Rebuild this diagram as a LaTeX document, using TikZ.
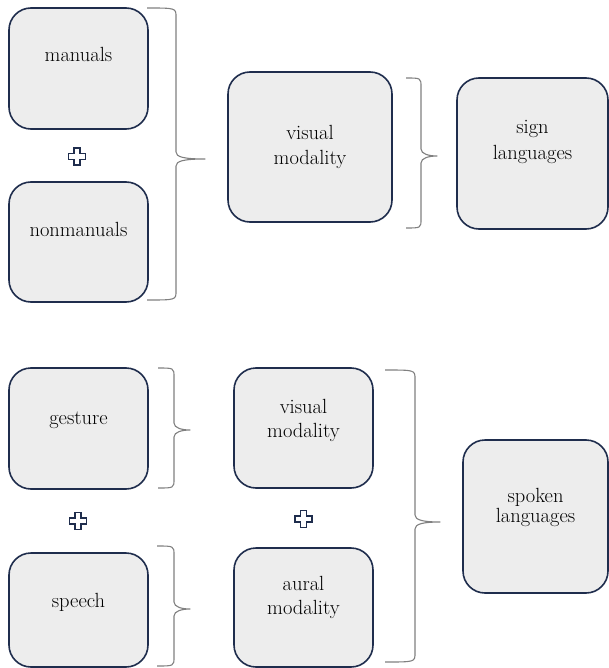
\documentclass[tikz,border=0pt]{standalone}
\definecolor{boxline}{HTML}{1F2D4D}
\definecolor{boxfill}{HTML}{EDEDED}
\definecolor{bracecol}{HTML}{808080}
\definecolor{txtcol}{HTML}{000000}
\tikzset{
  mbox/.style={draw=boxline, fill=boxfill, line width=1.6pt, rounded corners=22pt, inner sep=0pt},
  lbl/.style={font=\fontsize{20.5}{24}\selectfont, text=txtcol, align=center, inner sep=0pt},
  bracestyle/.style={draw=bracecol, line width=1.1pt, line join=round},
  plusstyle/.style={draw=boxline, fill=white, line width=1.2pt, line join=miter}
}
% brace: start x, vertical x, tip x, top y, bottom y, tip y
\newcommand\drawbrace[6]{%
  \draw[bracestyle] (#1,#4) .. controls (#2,#4) .. (#2,{#4+9})
    -- (#2,{#6-7}) .. controls (#2,{#6-2}) and ({#2+8},#6) .. (#3,#6)
    .. controls ({#2+8},#6) and (#2,{#6+2}) .. (#2,{#6+7})
    -- (#2,{#5-9}) .. controls (#2,#5) .. (#1,#5);}
\newcommand\drawplus[2]{%
  \draw[plusstyle] ({#1-3},{#2-8.5}) -- ({#1+3},{#2-8.5}) -- ({#1+3},{#2-3}) -- ({#1+8.5},{#2-3})
    -- ({#1+8.5},{#2+3}) -- ({#1+3},{#2+3}) -- ({#1+3},{#2+8.5}) -- ({#1-3},{#2+8.5})
    -- ({#1-3},{#2+3}) -- ({#1-8.5},{#2+3}) -- ({#1-8.5},{#2-3}) -- ({#1-3},{#2-3}) -- cycle;}
\begin{document}
\begin{tikzpicture}[x=1pt,y=-1pt]
\useasboundingbox (0,0) rectangle (609,668);
% ---- top section ----
\node[mbox, minimum width=139pt, minimum height=121pt] (man) at (78.5,68.5) {};
\node[lbl, anchor=base] (tman) at (78.5,62) {manuals};
\node[mbox, minimum width=139pt, minimum height=120pt] (nonman) at (78.5,242) {};
\node[lbl, anchor=base] (tnonman) at (78.5,236) {nonmanuals};
\drawplus{77}{156.5}
\drawbrace{147}{176}{205}{8}{300}{159}
\node[mbox, minimum width=164pt, minimum height=150pt] (vis1) at (310,147) {};
\node[lbl, anchor=base] (tvis1a) at (310,140) {visual};
\node[lbl, anchor=base] (tvis1b) at (310,165) {modality};
\drawbrace{406}{421}{437}{78}{228}{156}
\node[mbox, minimum width=151pt, minimum height=151pt] (sign) at (532.5,153.5) {};
\node[lbl, anchor=base] (tsigna) at (532.5,134) {sign};
\node[lbl, anchor=base] (tsignb) at (532.5,160) {languages};
% ---- bottom section ----
\node[mbox, minimum width=139pt, minimum height=121pt] (gest) at (78.5,428.5) {};
\node[lbl, anchor=base] (tgest) at (78.5,424) {gesture};
\drawbrace{158}{174}{190}{368}{488}{430}
\drawplus{78}{521}
\node[mbox, minimum width=139pt, minimum height=114pt] (speech) at (78.5,610) {};
\node[lbl, anchor=base] (tspeech) at (78.5,607) {speech};
\drawbrace{157}{174}{190}{546}{666}{609}
\node[mbox, minimum width=139pt, minimum height=120pt] (vis2) at (303.5,428) {};
\node[lbl, anchor=base] (tvis2a) at (303.5,413) {visual};
\node[lbl, anchor=base] (tvis2b) at (303.5,437) {modality};
\drawplus{303.5}{519}
\node[mbox, minimum width=139pt, minimum height=119pt] (aural) at (303.5,607.5) {};
\node[lbl, anchor=base] (taurala) at (303.5,590) {aural};
\node[lbl, anchor=base] (tauralb) at (303.5,614) {modality};
\drawbrace{385}{415}{440}{370}{662}{522}
\node[mbox, minimum width=145pt, minimum height=153pt] (spoken) at (535.5,516.5) {};
\node[lbl, anchor=base] (tspokena) at (535.5,502) {spoken};
\node[lbl, anchor=base] (tspokenb) at (535.5,522) {languages};
\end{tikzpicture}
\end{document}
